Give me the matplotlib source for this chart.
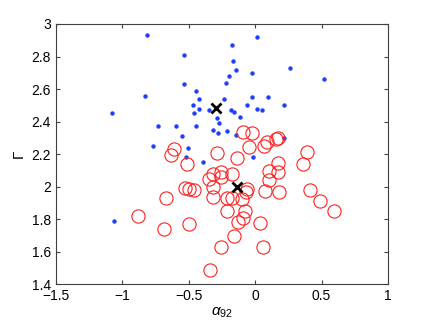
import matplotlib
matplotlib.use('Agg')
import matplotlib.pyplot as plt

plt.rcParams['font.family'] = ['Liberation Sans', 'DejaVu Sans']
plt.rcParams['mathtext.fontset'] = 'custom'
plt.rcParams['mathtext.rm'] = 'Liberation Sans'
plt.rcParams['mathtext.it'] = 'Liberation Sans:italic'

# group 1 (blue dots)
blue_x = [-0.817, -0.175, -0.537, -0.17, -0.142, -0.197, -0.22, -0.534, -0.446, -0.832,
          -0.421, -0.235, -0.468, -0.062, -0.425, -0.35, -0.18, -0.16, -0.459, -1.076,
          -0.112, -0.29, -0.275, -0.73, -0.599, -0.448, -0.32, -0.215, -0.278, -0.551,
          -0.142, -0.77, -0.504, -0.523, 0.011, 0.26, -0.022, 0.518, -0.022, 0.099,
          0.219, 0.016, 0.051, 0.215, -0.019, -0.393, -1.061]
blue_y = [2.93, 2.871, 2.81, 2.77, 2.72, 2.68, 2.64, 2.63, 2.59, 2.56,
          2.54, 2.54, 2.50, 2.50, 2.48, 2.47, 2.47, 2.46, 2.45, 2.45,
          2.43, 2.42, 2.39, 2.37, 2.37, 2.37, 2.35, 2.34, 2.33, 2.31,
          2.32, 2.25, 2.24, 2.18, 2.92, 2.73, 2.70, 2.66, 2.55, 2.55,
          2.50, 2.48, 2.47, 2.30, 2.18, 2.15, 1.79]

# group 2 (red circles)
red_x = [-0.611, -0.634, -0.516, -0.29, -0.139, -0.345, -0.315, -0.26, -0.26, -0.175,
         -0.315, -0.526, -0.496, -0.461, -0.32, -0.212, -0.177, -0.102, -0.064, -0.674,
         -0.215, -0.077, -0.09, -0.127, -0.885, -0.689, -0.496, -0.162, -0.26, -0.343,
         -0.094, -0.026, 0.091, 0.069, 0.169, 0.154, -0.044, 0.39, 0.362, 0.174,
         0.106, 0.174, 0.101, -0.067, 0.076, 0.179, 0.415, 0.49, 0.596, 0.036, 0.061]
red_y = [2.231, 2.192, 2.138, 2.206, 2.177, 2.046, 2.079, 2.087, 2.057, 2.079,
         2.0, 1.989, 1.983, 1.979, 1.937, 1.927, 1.927, 1.921, 1.987, 1.927,
         1.851, 1.849, 1.806, 1.78, 1.818, 1.738, 1.767, 1.697, 1.628, 1.488,
         2.337, 2.327, 2.276, 2.251, 2.30, 2.29, 2.241, 2.21, 2.138, 2.146,
         2.097, 2.091, 2.038, 1.968, 1.97, 1.968, 1.976, 1.909, 1.849, 1.777, 1.628]

# group centres
centre_x = [-0.293, -0.135]
centre_y = [2.483, 2.0]

fig = plt.figure(figsize=(4.29, 3.23), dpi=100)
ax = fig.add_axes([0.1305, 0.1207, 0.7739, 0.805])

ax.plot(blue_x, blue_y, 'o', color='#1f3fff', ms=3.2, mec='none')
ax.plot(red_x, red_y, 'o', mfc='none', mec='#ff2020', ms=9.5, mew=0.8)
ax.plot(centre_x, centre_y, 'x', color='black', ms=7, mew=2)

ax.set_xlim(-1.5, 1)
ax.set_ylim(1.4, 3)
ax.set_xticks([-1.5, -1, -0.5, 0, 0.5, 1])
ax.set_xticklabels(['\u22121.5', '\u22121', '\u22120.5', '0', '0.5', '1'])
ax.set_yticks([1.4, 1.6, 1.8, 2, 2.2, 2.4, 2.6, 2.8, 3])
ax.set_yticklabels(['1.4', '1.6', '1.8', '2', '2.2', '2.4', '2.6', '2.8', '3'])
ax.tick_params(direction='in', top=True, right=True, labelsize=10, length=3, color='#404040')
for s in ax.spines.values():
    s.set_color('#404040')
    s.set_linewidth(0.8)

ax.set_xlabel(r'$\alpha_{92}$', fontsize=11, labelpad=2)
ax.set_ylabel('\u0393', fontsize=11, labelpad=4)

fig.savefig('out.png', dpi=100)
